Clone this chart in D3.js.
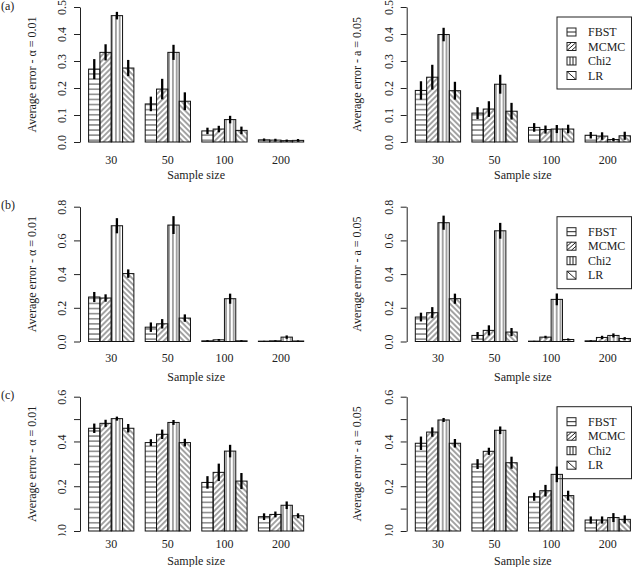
<!DOCTYPE html>
<html>
<head>
<meta charset="utf-8">
<script src="https://cdn.jsdelivr.net/npm/d3@7"></script>
<style>
  html, body { margin: 0; padding: 0; background: #fff; }
  svg { display: block; }
  svg text { font-family: "Liberation Serif", "Times New Roman", Times, "DejaVu Serif", serif !important; font-size: 12px; fill: #222; }
</style>
</head>
<body>
<svg id="chart" width="633" height="567" font-family="Liberation Serif, serif"></svg>
<script>
// ---------- data ----------
const sampleSizes = ["30", "50", "100", "200"];
const methods = ["FBST", "MCMC", "Chi2", "LR"];

// rows = sample size groups, columns = methods (FBST, MCMC, Chi2, LR)
const aLeftMean = [[0.270, 0.332, 0.468, 0.274], [0.141, 0.196, 0.332, 0.151], [0.041, 0.048, 0.083, 0.043], [0.008, 0.007, 0.005, 0.006]];
const aLeftErr  = [[0.037, 0.030, 0.014, 0.030], [0.027, 0.038, 0.028, 0.033], [0.012, 0.012, 0.014, 0.014], [0.005, 0.005, 0.004, 0.005]];
const aRightMean = [[0.191, 0.240, 0.398, 0.190], [0.107, 0.122, 0.214, 0.114], [0.054, 0.046, 0.048, 0.048], [0.025, 0.022, 0.009, 0.023]];
const aRightErr  = [[0.034, 0.046, 0.025, 0.033], [0.022, 0.029, 0.035, 0.031], [0.016, 0.015, 0.015, 0.016], [0.012, 0.014, 0.006, 0.015]];

const bLeftMean = [[0.264, 0.258, 0.687, 0.403], [0.085, 0.105, 0.691, 0.139], [0.004, 0.010, 0.254, 0.004], [0.002, 0.004, 0.026, 0.003]];
const bLeftErr  = [[0.030, 0.022, 0.045, 0.025], [0.028, 0.028, 0.053, 0.022], [0.004, 0.005, 0.030, 0.004], [0.002, 0.003, 0.010, 0.003]];
const bRightMean = [[0.145, 0.171, 0.705, 0.254], [0.036, 0.066, 0.657, 0.056], [0.002, 0.026, 0.250, 0.012], [0.004, 0.024, 0.036, 0.018]];
const bRightErr  = [[0.026, 0.033, 0.042, 0.030], [0.020, 0.030, 0.047, 0.024], [0.002, 0.008, 0.035, 0.006], [0.003, 0.010, 0.012, 0.008]];

const cLeftMean = [[0.459, 0.481, 0.502, 0.459], [0.395, 0.432, 0.485, 0.395], [0.217, 0.262, 0.357, 0.223], [0.064, 0.074, 0.115, 0.068]];
const cLeftErr  = [[0.021, 0.016, 0.009, 0.019], [0.015, 0.021, 0.011, 0.017], [0.028, 0.039, 0.028, 0.036], [0.015, 0.013, 0.017, 0.011]];
const cRightMean = [[0.392, 0.442, 0.496, 0.392], [0.299, 0.356, 0.450, 0.305], [0.153, 0.180, 0.253, 0.158], [0.049, 0.049, 0.060, 0.052]];
const cRightErr  = [[0.030, 0.021, 0.009, 0.019], [0.022, 0.016, 0.017, 0.027], [0.018, 0.026, 0.035, 0.022], [0.016, 0.016, 0.020, 0.018]];

const rowLetters = ["(a)", "(b)", "(c)"];
const yMaxes = [0.5, 0.8, 0.6];
const tickSteps = [0.1, 0.2, 0.1];
const labelEvery = [1, 1, 2];
const yLabels = ["Average error - \u03B1 = 0.01", "Average error - a = 0.05"];
const xLabel = "Sample size";

// ---------- layout ----------
const FONT = "Liberation Serif";
const svg = d3.select("#chart");
const rows = [
  { yZero: 142, yTop: 7, tickLabY: 160, xlabY: 175, letterY: 6, clip: null },
  { yZero: 341.5, yTop: 206.7, tickLabY: 358, xlabY: 376.5, letterY: 205, clip: null },
  { yZero: 531, yTop: 396.7, tickLabY: 544, xlabY: 560.5, letterY: 395, clip: 535.5 }
];
const cols = [
  { axisX: 80, ylabX: 32, legend: false },
  { axisX: 406.7, ylabX: 356.7, legend: true }
];
const panelData = [
  [[aLeftMean, aLeftErr], [aRightMean, aRightErr]],
  [[bLeftMean, bLeftErr], [bRightMean, bRightErr]],
  [[cLeftMean, cLeftErr], [cRightMean, cRightErr]]
];
const unitPx = 11.32;

function txt(sel) {
  return sel.append("text")
    .attr("font-family", FONT).attr("font-size", 12).attr("fill", "#222")
    .attr("dominant-baseline", "central");
}

// ---------- hatch patterns ----------
const defs = svg.append("defs");
const hatchColor = "#333";
const hatchW = 0.9;
function linePattern(id, spacing, angle) {
  const p = defs.append("pattern")
    .attr("id", id)
    .attr("patternUnits", "userSpaceOnUse")
    .attr("width", 20).attr("height", spacing)
    .attr("patternTransform", `rotate(${angle})`);
  p.append("line")
    .attr("x1", 0).attr("x2", 20)
    .attr("y1", spacing / 2).attr("y2", spacing / 2)
    .attr("stroke", hatchColor).attr("stroke-width", hatchW);
}
linePattern("hat0", 5.1, 0);     // FBST: horizontal
linePattern("hat1", 3.9, -45);   // MCMC: "/"
linePattern("hat2", 3.8, 90);    // Chi2: vertical
linePattern("hat3", 3.9, 45);    // LR: "\"

const fmt = d3.format(".1f");

rows.forEach((row, ri) => {
  txt(svg).attr("x", 1).attr("y", row.letterY).text(rowLetters[ri]);

  let clipId = null;
  if (row.clip !== null) {
    clipId = "clip" + ri;
    defs.append("clipPath").attr("id", clipId)
      .append("rect").attr("x", -200).attr("y", 0).attr("width", 400).attr("height", row.clip);
  }

  cols.forEach((col, ci) => {
    const [means, errs] = panelData[ri][ci];
    const x = d3.scaleLinear().domain([0.24, 20.76]).range([col.axisX, col.axisX + 20.52 * unitPx]);
    const y = d3.scaleLinear().domain([0, yMaxes[ri]]).range([row.yZero, row.yTop]);
    const g = svg.append("g");

    // legend (drawn first, transparent)
    if (col.legend) {
      const lx = 557, ly = row.yTop + 10, lw = 74.5, lh = 72;
      g.append("rect").attr("x", lx).attr("y", ly).attr("width", lw).attr("height", lh)
        .attr("fill", "none").attr("stroke", "#222").attr("stroke-width", 1);
      methods.forEach((m, mi) => {
        const cy = ly + 15 + mi * 14.5;
        const sx = 567, sy = cy - 4, sw = 9, sh = 8;
        const sg = g.append("g");
        sg.append("rect").attr("x", sx).attr("y", sy).attr("width", sw).attr("height", sh)
          .attr("fill", "none").attr("stroke", "#222").attr("stroke-width", 1);
        const ln = (x1, y1, x2, y2) => sg.append("line").attr("x1", x1).attr("y1", y1).attr("x2", x2).attr("y2", y2)
          .attr("stroke", "#222").attr("stroke-width", 1);
        if (mi === 0) ln(sx, cy, sx + sw, cy);
        if (mi === 1) { ln(sx, sy + sh, sx + sw, sy); ln(sx, sy + sh / 2, sx + sw / 2, sy); ln(sx + sw / 2, sy + sh, sx + sw, sy + sh / 2); }
        if (mi === 2) { ln(sx + 3, sy, sx + 3, sy + sh); ln(sx + 6, sy, sx + 6, sy + sh); }
        if (mi === 3) ln(sx, sy, sx + sw, sy + sh);
        txt(g).attr("x", 588).attr("y", cy).text(m);
      });
    }

    // bars
    sampleSizes.forEach((s, gi) => {
      methods.forEach((m, mi) => {
        const left = 1 + gi * 5 + mi;
        const v = means[gi][mi];
        g.append("rect")
          .attr("x", x(left)).attr("width", x(left + 1) - x(left))
          .attr("y", y(v)).attr("height", y(0) - y(v))
          .attr("fill", `url(#hat${mi})`)
          .attr("stroke", "#111").attr("stroke-width", 1);
      });
    });
    // error bars
    sampleSizes.forEach((s, gi) => {
      methods.forEach((m, mi) => {
        const cx = x(1 + gi * 5 + mi + 0.5);
        const v = means[gi][mi], e = errs[gi][mi];
        g.append("line")
          .attr("x1", cx).attr("x2", cx)
          .attr("y1", y(v - e)).attr("y2", y(v + e))
          .attr("stroke", "#000").attr("stroke-width", 2.3);
      });
    });

    // y axis
    const nT = Math.round(yMaxes[ri] / tickSteps[ri]);
    const tickVals = d3.range(nT + 1).map(i => +(i * tickSteps[ri]).toFixed(2));
    const axis = d3.axisLeft(y).tickValues(tickVals).tickSize(6).tickSizeOuter(0)
      .tickFormat((d, i) => (i % labelEvery[ri] === 0 ? fmt(d) : ""));
    const ag = g.append("g").attr("transform", `translate(${col.axisX},0)`).call(axis);
    ag.attr("font-family", FONT).attr("font-size", 12);
    ag.select(".domain").attr("stroke", "#222");
    ag.selectAll(".tick line").attr("stroke", "#222");
    ag.selectAll(".tick text")
      .attr("transform", "rotate(-90)")
      .attr("x", 0).attr("y", -18).attr("dy", null)
      .attr("text-anchor", "middle")
      .attr("dominant-baseline", "central")
      .attr("font-family", FONT).attr("font-size", 12).attr("fill", "#222");
    if (clipId) ag.attr("clip-path", `url(#${clipId})`);

    // x group labels
    sampleSizes.forEach((s, gi) => {
      txt(g).attr("x", x(1 + gi * 5 + 2)).attr("y", row.tickLabY)
        .attr("text-anchor", "middle").text(s);
    });
    txt(g).attr("x", x(10.5)).attr("y", row.xlabY)
      .attr("text-anchor", "middle").text(xLabel);

    // y label
    txt(g).attr("transform", `translate(${col.ylabX},${(row.yZero + row.yTop) / 2}) rotate(-90)`)
      .attr("text-anchor", "middle").text(yLabels[ci]);
  });
});
</script>
</body>
</html>
